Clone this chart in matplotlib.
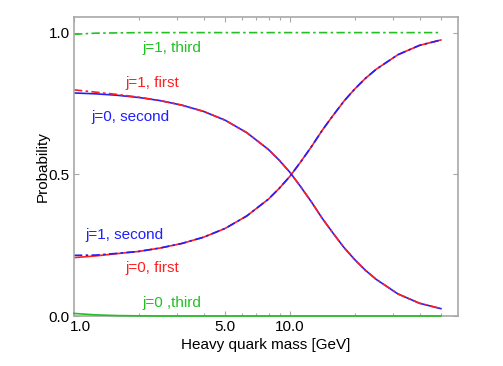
import matplotlib
matplotlib.use("Agg")
import matplotlib.pyplot as plt
from matplotlib.ticker import FixedLocator, NullFormatter
from matplotlib.transforms import ScaledTranslation

plt.rcParams['font.family'] = ['Liberation Sans', 'DejaVu Sans']

# Data
mass = [1.0, 1.26, 1.58, 2.0, 2.51, 3.16, 3.98, 5.01, 6.31, 7.94, 8.91, 10.0,
        11.22, 12.59, 14.13, 15.85, 17.78, 19.95, 22.39, 25.12, 31.62, 39.81, 50.0]
j0_second = [0.787, 0.784, 0.779, 0.771, 0.760, 0.744, 0.722, 0.691, 0.647, 0.588,
             0.550, 0.507, 0.456, 0.402, 0.344, 0.292, 0.242, 0.199, 0.161, 0.129,
             0.078, 0.045, 0.026]
j1_first = [0.798, 0.790, 0.782, 0.772, 0.760, 0.744, 0.722, 0.691, 0.647, 0.588,
            0.550, 0.507, 0.456, 0.402, 0.344, 0.292, 0.242, 0.199, 0.161, 0.129,
            0.078, 0.045, 0.026]
j0_first = [0.206, 0.212, 0.220, 0.228, 0.240, 0.256, 0.278, 0.309, 0.353, 0.412,
            0.450, 0.493, 0.544, 0.598, 0.656, 0.708, 0.758, 0.801, 0.839, 0.871,
            0.922, 0.955, 0.974]
j1_second = [0.214, 0.215, 0.221, 0.228, 0.240, 0.256, 0.278, 0.309, 0.353, 0.412,
             0.450, 0.493, 0.544, 0.598, 0.656, 0.708, 0.758, 0.801, 0.839, 0.871,
             0.922, 0.955, 0.974]
j0_third = [0.009, 0.004, 0.0015, 0.0005, 0.0, 0.0, 0.0, 0.0, 0.0, 0.0,
            0.0, 0.0, 0.0, 0.0, 0.0, 0.0, 0.0, 0.0, 0.0, 0.0,
            0.0, 0.0, 0.0]
j1_third = [0.994, 0.998, 0.999, 1.0, 1.0, 1.0, 1.0, 1.0, 1.0, 1.0,
            1.0, 1.0, 1.0, 1.0, 1.0, 1.0, 1.0, 1.0, 1.0, 1.0,
            1.0, 1.0, 1.0]

x_major = [1, 5, 10]
x_major_labels = ["1.0", "5.0", "10.0"]
x_minor = [2, 3, 4, 6, 7, 8, 9, 20, 30, 40, 50]
y_ticks = [0.0, 0.5, 1.0]
y_labels = ["0.0", "0.5", "1.0"]

RED = "#ff1f1f"
BLUE = "#1f1fff"
GREEN = "#22c022"

fig = plt.figure(figsize=(5.03, 3.66), dpi=100)
ax = fig.add_axes([0.1471, 0.1366, 0.7634, 0.8161])

lw = 1.2
ax.plot(mass, j0_second, color=BLUE, lw=lw, ls='-')
ax.plot(mass, j0_first, color=RED, lw=lw, ls='-')
ax.plot(mass, j0_third, color=GREEN, lw=lw, ls='-', zorder=3, clip_on=False)
dd = (0, (5, 2, 1.5, 2))
ax.plot(mass, j1_first, color=RED, lw=lw, ls=dd)
ax.plot(mass, j1_second, color=BLUE, lw=lw, ls=dd)
ax.plot(mass, j1_third, color=GREEN, lw=lw, ls=dd)

ax.set_xscale('log')
ax.set_xlim(1.0, 60.0)
ax.set_ylim(0.0, 1.054)

ax.xaxis.set_major_locator(FixedLocator(x_major))
ax.set_xticklabels(x_major_labels)
ax.xaxis.set_minor_locator(FixedLocator(x_minor))
ax.xaxis.set_minor_formatter(NullFormatter())
ax.set_yticks(y_ticks)
ax.set_yticklabels(y_labels)

spine_c = "#a8a8a8"
for s in ax.spines.values():
    s.set_color(spine_c)
    s.set_linewidth(1.2)
ax.tick_params(which='both', direction='in', top=True, right=True,
               color=spine_c, labelsize=11, labelcolor='black')
ax.tick_params(which='major', length=3.5, width=0.8, pad=3)
ax.tick_params(which='minor', length=2.5, width=0.8)

# nudge the first x tick label to the right as in the reference
first = ax.get_xticklabels()[0]
first.set_transform(first.get_transform() + ScaledTranslation(0.06, 0, fig.dpi_scale_trans))

ax.set_xlabel("Heavy quark mass [GeV]", fontsize=11, labelpad=3)
ax.set_ylabel("Probability", fontsize=11, labelpad=-1)

fs = 11
ax.text(2.066, 0.946, "j=1, third", color=GREEN, fontsize=fs, va='center', ha='left')
ax.text(1.722, 0.822, "j=1, first", color=RED, fontsize=fs, va='center', ha='left')
ax.text(1.199, 0.702, "j=0, second", color=BLUE, fontsize=fs, va='center', ha='left')
ax.text(1.124, 0.286, "j=1, second", color=BLUE, fontsize=fs, va='center', ha='left')
ax.text(1.722, 0.169, "j=0, first", color=RED, fontsize=fs, va='center', ha='left')
ax.text(2.066, 0.046, "j=0 ,third", color=GREEN, fontsize=fs, va='center', ha='left')

fig.savefig("out.png", dpi=100)
